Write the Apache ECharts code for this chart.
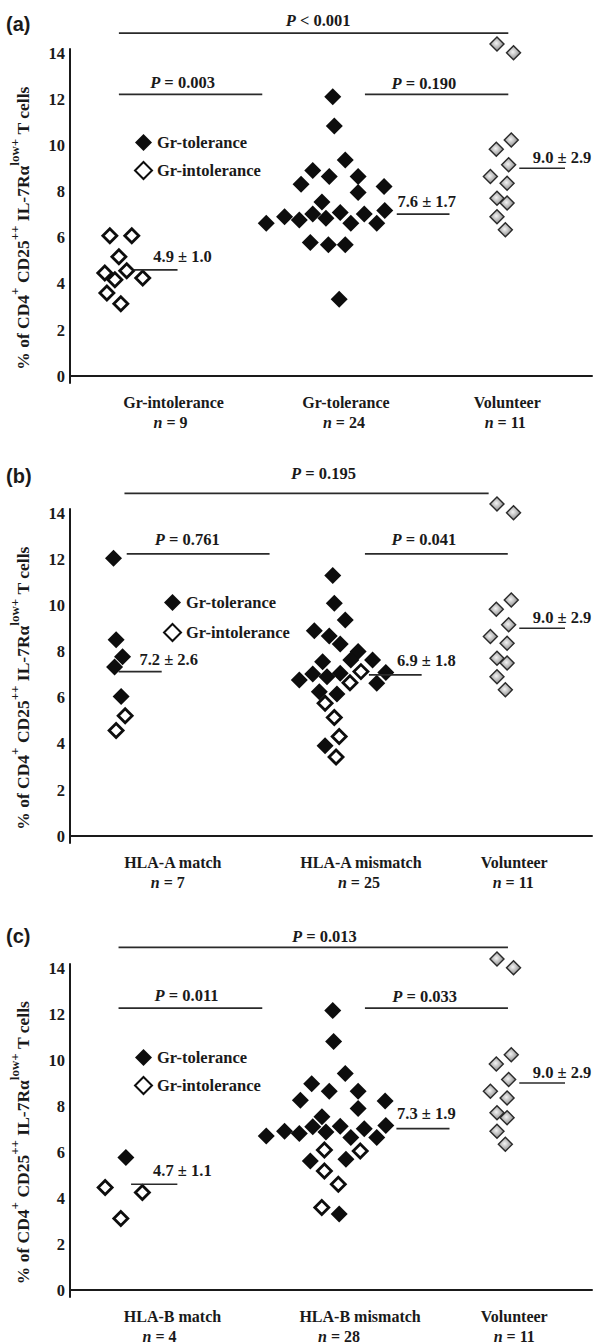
<!DOCTYPE html>
<html>
<head>
<meta charset="utf-8">
<script src="https://cdn.jsdelivr.net/npm/echarts@6.0.0/dist/echarts.min.js"></script>
<style>
  html, body { margin: 0; padding: 0; background: #fff; }
  #chart { width: 595px; height: 1344px; }
</style>
</head>
<body>
<div id="chart"></div>
<script>
var SERIF = '"Liberation Serif", "Times New Roman", serif';
var SANS = '"Liberation Sans", Arial, sans-serif';
var INK = '#1a1a1a';

// ---- values ----
var panelLetters = ['(a)', '(b)', '(c)'];
var yTicks = [0, 2, 4, 6, 8, 10, 12, 14];

var categoriesA = ['Gr-intolerance', 'Gr-tolerance', 'Volunteer'];
var countsA = [9, 24, 11];
var categoriesB = ['HLA-A match', 'HLA-A mismatch', 'Volunteer'];
var countsB = [7, 25, 11];
var categoriesC = ['HLA-B match', 'HLA-B mismatch', 'Volunteer'];
var countsC = [4, 28, 11];

// points: [strip position (0-30 scale), % of cells]
var toleranceA = [
  [15.10, 12.13], [15.19, 10.86], [15.82, 9.38], [13.95, 8.92], [14.90, 8.66], [16.56, 8.66],
  [13.28, 8.33], [18.05, 8.23], [16.56, 7.97], [14.48, 7.56], [18.09, 7.19], [11.28, 6.64],
  [12.33, 6.92], [13.18, 6.78], [13.95, 7.04], [14.71, 6.85], [15.53, 7.10], [16.14, 6.64],
  [16.91, 7.04], [17.63, 6.64], [13.81, 5.80], [14.85, 5.70], [15.82, 5.70], [15.47, 3.34]
];
var intoleranceA = [
  [2.29, 6.09], [3.55, 6.09], [2.81, 5.18], [2.00, 4.48], [3.26, 4.57],
  [2.58, 4.18], [4.18, 4.26], [2.12, 3.61], [2.92, 3.14]
];
var toleranceB = [
  [2.50, 12.06], [2.65, 8.52], [3.02, 7.79], [2.56, 7.34], [2.94, 6.06],
  [15.10, 11.31], [15.19, 10.11], [15.82, 9.38], [14.04, 8.91], [14.90, 8.69], [15.53, 8.34],
  [16.56, 8.01], [17.39, 7.65], [14.52, 7.57], [16.14, 7.65], [13.18, 6.78], [13.95, 7.04],
  [14.77, 6.92], [15.53, 7.07], [18.15, 7.10], [17.63, 6.64], [14.33, 6.27], [15.34, 6.17],
  [14.66, 3.92]
];
var intoleranceB = [
  [3.17, 5.22], [2.65, 4.58],
  [16.72, 7.14], [16.09, 6.66], [14.66, 5.77], [15.19, 5.15], [15.47, 4.32], [15.29, 3.43]
];
var toleranceC = [
  [3.21, 5.77],
  [15.10, 12.17], [15.15, 10.83], [15.82, 9.43], [13.89, 8.99], [14.90, 8.66], [16.56, 8.66],
  [13.24, 8.27], [18.11, 8.23], [16.56, 7.91], [14.48, 7.55], [11.28, 6.71], [12.33, 6.92],
  [13.18, 6.82], [13.95, 7.11], [14.71, 6.88], [15.53, 7.14], [16.14, 6.64], [16.91, 7.03],
  [17.63, 6.64], [18.15, 7.17], [13.81, 5.62], [15.86, 5.70], [15.47, 3.31]
];
var intoleranceC = [
  [2.02, 4.47], [4.16, 4.25], [2.92, 3.12],
  [14.62, 6.10], [16.68, 6.06], [14.62, 5.19], [15.42, 4.61], [14.47, 3.60]
];
var volunteer = [
  [24.54, 14.42], [25.49, 14.04], [25.36, 10.25], [24.50, 9.85], [25.21, 9.17], [24.16, 8.66],
  [25.12, 8.37], [24.54, 7.72], [25.12, 7.51], [24.54, 6.92], [25.02, 6.35]
];

// group mean lines as drawn, and their printed labels
var meansA = [4.61, 7.03, 9.02];
var meansB = [7.14, 7.00, 9.02];
var meansC = [4.61, 7.03, 9.02];
var meanTextsA = ['4.9 \u00b1 1.0', '7.6 \u00b1 1.7', '9.0 \u00b1 2.9'];
var meanTextsB = ['7.2 \u00b1 2.6', '6.9 \u00b1 1.8', '9.0 \u00b1 2.9'];
var meanTextsC = ['4.7 \u00b1 1.1', '7.3 \u00b1 1.9', '9.0 \u00b1 2.9'];

// P values: [first vs volunteer, first vs second, second vs volunteer]
var pValuesA = ['< 0.001', '= 0.003', '= 0.190'];
var pValuesB = ['= 0.195', '= 0.761', '= 0.041'];
var pValuesC = ['= 0.013', '= 0.011', '= 0.033'];

// ---- layout (axis units) ----
var layoutA = {
  top: 49, letterTop: 14, legend: [134, 134, 10],
  catPos: [5.95, 15.86, 25.13], nShift: [3, 2, 2],
  meanSpan: [[3.66, 6.18], [18.78, 21.81], [25.82, 28.45]],
  meanTextAt: [[6.47, 5.18], [20.5, 7.56], [28.28, 9.47]],
  bars: [[2.81, 25.19, 14.89], [2.81, 11.05, 12.23], [16.95, 25.19, 12.23]],
  pTextAt: [[14.26, 15.45], [6.47, 12.76], [20.34, 12.71]]
};
var layoutB = {
  top: 509, letterTop: 466, legend: [163, 594, 12],
  catPos: [5.91, 16.72, 25.53], nShift: [5, 2, 1],
  meanSpan: [[2.79, 5.27], [17.18, 20.21], [25.82, 28.45]],
  meanTextAt: [[5.67, 7.65], [20.48, 7.62], [28.28, 9.47]],
  bars: [[3.13, 24.06, 14.88], [3.26, 11.47, 12.25], [16.95, 25.16, 12.25]],
  pTextAt: [[14.57, 15.75], [6.74, 12.86], [20.34, 12.86]]
};
var layoutC = {
  top: 964, letterTop: 926, legend: [134, 1049, 10],
  catPos: [5.89, 16.67, 25.53], nShift: [13, 21, 0],
  meanSpan: [[3.51, 6.17], [18.76, 21.81], [25.82, 28.45]],
  meanTextAt: [[6.46, 5.19], [20.48, 7.69], [28.28, 9.47]],
  bars: [[2.79, 25.17, 14.92], [2.79, 11.05, 12.28], [16.95, 25.17, 12.28]],
  pTextAt: [[14.62, 15.38], [6.70, 12.81], [20.38, 12.79]]
};

var panels = [
  { cats: categoriesA, counts: countsA, tol: toleranceA, intol: intoleranceA, means: meansA, meanTexts: meanTextsA, pValues: pValuesA, layout: layoutA },
  { cats: categoriesB, counts: countsB, tol: toleranceB, intol: intoleranceB, means: meansB, meanTexts: meanTextsB, pValues: pValuesB, layout: layoutB },
  { cats: categoriesC, counts: countsC, tol: toleranceC, intol: intoleranceC, means: meansC, meanTexts: meanTextsC, pValues: pValuesC, layout: layoutC }
];

var boldSerif = { fontFamily: SERIF, fontWeight: 'bold', fontSize: 16, color: INK };
function txt(extra) { return Object.assign({}, boldSerif, extra || {}); }

var volunteerFill = {
  type: 'radial', x: 0.45, y: 0.45, r: 0.6,
  colorStops: [{ offset: 0, color: '#f4f4f4' }, { offset: 1, color: '#7e7e7e' }]
};

var yName = '{t|% of CD4}{s|+}{t| CD25}{s|++}{t| IL-7R\u03b1}{s|low}{ss|+}{t| T cells}';

var option = {
  animation: false,
  backgroundColor: '#fff',
  title: [], legend: [], grid: [], xAxis: [], yAxis: [], series: []
};

panels.forEach(function (p, i) {
  var L = p.layout;

  option.title.push({
    text: panelLetters[i], left: 6, top: L.letterTop, padding: 0,
    textStyle: { fontFamily: SANS, fontSize: 20, fontWeight: 'bold', color: INK }
  });

  option.grid.push({ left: 68, width: 524, top: L.top, height: 334 });

  option.legend.push({
    data: ['Gr-tolerance', 'Gr-intolerance'],
    orient: 'vertical', left: L.legend[0], top: L.legend[1], itemGap: L.legend[2],
    itemWidth: 17, itemHeight: 17, padding: 0, selectedMode: false,
    textStyle: txt({ fontSize: 16.5 })
  });

  var rich = { c: txt({ lineHeight: 20 }), it: txt({ lineHeight: 20, fontStyle: 'italic' }) };
  p.cats.forEach(function (c, k) {
    rich['n' + k] = txt({ lineHeight: 20, padding: [0, 2 * L.nShift[k], 0, 0] });
  });

  option.xAxis.push({
    type: 'value', gridIndex: i, min: 0, max: 30,
    axisLine: { show: true, lineStyle: { color: INK, width: 2 } },
    axisTick: { show: false },
    splitLine: { show: false },
    axisLabel: {
      customValues: L.catPos, margin: 9, rich: rich,
      formatter: function (v) {
        var k = 0;
        L.catPos.forEach(function (c, j) { if (Math.abs(c - v) < Math.abs(L.catPos[k] - v)) k = j; });
        return '{c|' + p.cats[k] + '}\n{it|n}{n' + k + '| = ' + p.counts[k] + '}';
      }
    }
  });

  option.yAxis.push({
    type: 'value', gridIndex: i, min: -0.3, max: 14.2,
    axisLine: { show: true, lineStyle: { color: INK, width: 2 } },
    axisTick: { show: false },
    splitLine: { show: false },
    axisLabel: {
      customValues: yTicks, margin: 5,
      fontFamily: SERIF, fontWeight: 'bold', fontSize: 16.5, color: INK
    },
    name: yName, nameLocation: 'middle', nameRotate: 90, nameGap: 32,
    nameTextStyle: {
      padding: [0, 24, 0, 0],
      rich: {
        t: txt({ fontSize: 17.5, lineHeight: 30, verticalAlign: 'middle' }),
        s: txt({ fontSize: 13, lineHeight: 18, verticalAlign: 'top' }),
        ss: txt({ fontSize: 13, lineHeight: 12, verticalAlign: 'top' })
      }
    }
  });

  option.series.push({
    name: 'Gr-tolerance', type: 'scatter', xAxisIndex: i, yAxisIndex: i,
    symbol: 'diamond', symbolSize: 17, silent: true,
    itemStyle: { color: '#0d0d0d', opacity: 1 },
    data: p.tol
  });
  option.series.push({
    name: 'Gr-intolerance', type: 'scatter', xAxisIndex: i, yAxisIndex: i,
    symbol: 'diamond', symbolSize: 14, silent: true,
    itemStyle: { color: '#fff', borderColor: '#0d0d0d', borderWidth: 2.8, opacity: 1 },
    data: p.intol
  });
  option.series.push({
    name: 'Volunteer', type: 'scatter', xAxisIndex: i, yAxisIndex: i,
    symbol: 'diamond', symbolSize: 14, silent: true, clip: false,
    itemStyle: { color: volunteerFill, borderColor: '#2a2a2a', borderWidth: 1.4, opacity: 1 },
    data: volunteer
  });

  // mean lines
  p.means.forEach(function (m, k) {
    option.series.push({
      type: 'line', xAxisIndex: i, yAxisIndex: i, symbol: 'none', silent: true,
      lineStyle: { color: '#2a2a2a', width: 1.6 },
      data: [[L.meanSpan[k][0], m], [L.meanSpan[k][1], m]]
    });
  });

  // significance bars
  L.bars.forEach(function (b) {
    option.series.push({
      type: 'line', xAxisIndex: i, yAxisIndex: i, symbol: 'none', silent: true, clip: false,
      lineStyle: { color: '#2a2a2a', width: 1.8 },
      data: [[b[0], b[2]], [b[1], b[2]]]
    });
  });

  // text notes: mean labels and P values
  var notes = [];
  p.meanTexts.forEach(function (t, k) {
    notes.push({ value: L.meanTextAt[k], text: '{b|' + t + '}' });
  });
  p.pValues.forEach(function (t, k) {
    notes.push({ value: L.pTextAt[k], text: '{i|P}{b| ' + t + '}' });
  });
  option.series.push({
    type: 'scatter', xAxisIndex: i, yAxisIndex: i, symbol: 'circle', symbolSize: 1,
    silent: true, clip: false,
    itemStyle: { color: 'rgba(0,0,0,0)', opacity: 1 },
    label: {
      show: true, position: 'inside',
      formatter: function (q) { return q.data.text; },
      rich: { b: txt({ fontSize: 16.5 }), i: txt({ fontSize: 16.5, fontStyle: 'italic' }) }
    },
    data: notes
  });
});

var chart = echarts.init(document.getElementById('chart'), null, { renderer: 'svg' });
chart.setOption(option);
window.addEventListener('resize', function () { chart.resize(); });
</script>
</body>
</html>
